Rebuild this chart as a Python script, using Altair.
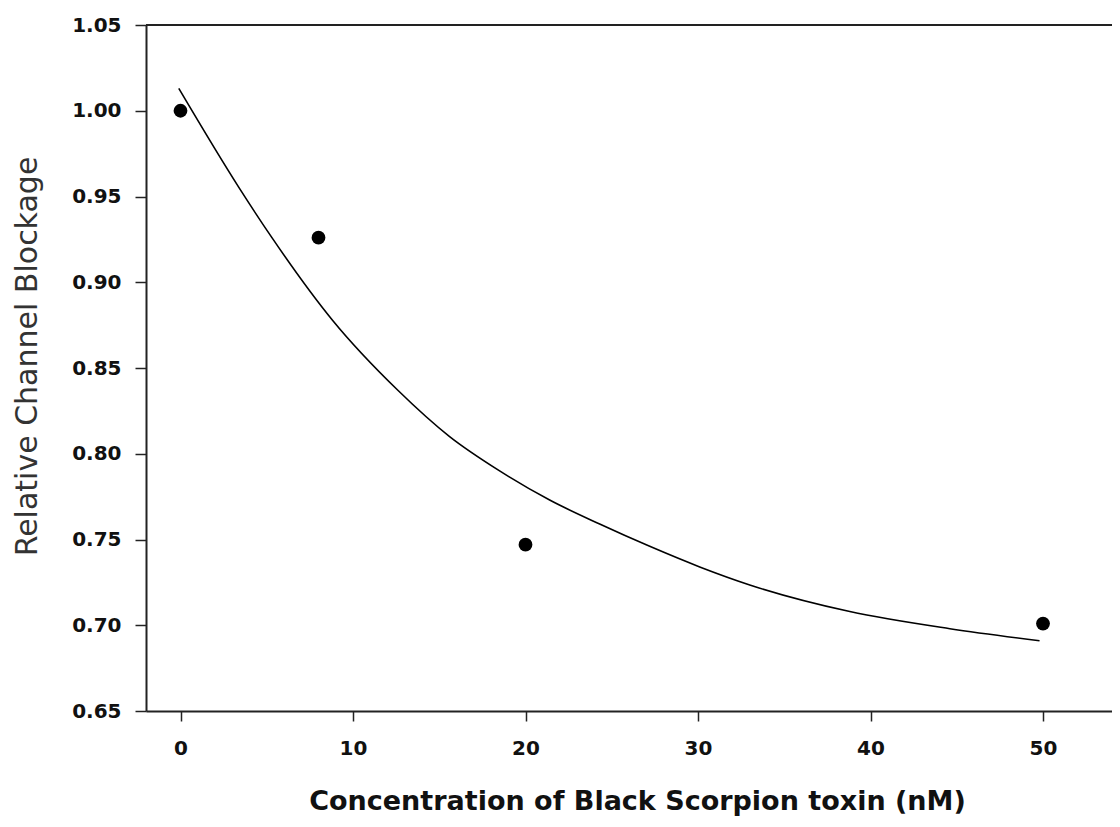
import altair as alt
import pandas as pd

# Measured points
conc = [0, 8, 20, 50]
blockage = [1.000, 0.926, 0.747, 0.701]

# Fitted curve
curve_x = [-0.1, 3.4, 5.3, 8.8, 12.6, 15.6, 18.5, 21.4, 24.3, 27.2, 30.1, 33.0, 38.8, 44.6, 49.8]
curve_y = [1.013, 0.955, 0.926, 0.878, 0.837, 0.810, 0.790, 0.773, 0.759, 0.746, 0.734, 0.7235, 0.708, 0.698, 0.691]

pts = pd.DataFrame({"x": conc, "y": blockage})
crv = pd.DataFrame({"x": curve_x, "y": curve_y})

W, H = 966, 686
FONT = "DejaVu Sans"

xscale = alt.Scale(domain=[-2, 54], nice=False, zero=False)
yscale = alt.Scale(domain=[0.65, 1.05], nice=False, zero=False)

xaxis = alt.Axis(
    title="Concentration of Black Scorpion toxin (nM)",
    values=[0, 10, 20, 30, 40, 50], format="d",
    grid=False, domainColor="#222", domainWidth=2, tickColor="#222", tickWidth=1.5,
    tickSize=10, labelFont=FONT, labelFontSize=20, labelFontWeight="bold", labelColor="#111",
    labelPadding=17, titleFont=FONT, titleFontSize=27, titleFontWeight="bold",
    titleColor="#111", titleX=491, titleY=98, titleBaseline="alphabetic",
)
yaxis = alt.Axis(
    title="Relative Channel Blockage",
    values=[0.65, 0.70, 0.75, 0.80, 0.85, 0.90, 0.95, 1.00, 1.05], format=".2f",
    grid=False, domainColor="#222", domainWidth=2, tickColor="#222", tickWidth=1.5,
    tickSize=11, labelFont=FONT, labelFontSize=20, labelFontWeight="bold", labelColor="#111",
    labelPadding=14, titleFont=FONT, titleFontSize=30, titleFontWeight="normal",
    titleColor="#333", titleX=-110, titleY=331, titleBaseline="alphabetic",
)

line = alt.Chart(crv).mark_line(color="black", strokeWidth=1.6, interpolate="monotone").encode(
    x=alt.X("x:Q", scale=xscale, axis=xaxis),
    y=alt.Y("y:Q", scale=yscale, axis=yaxis),
)
dots = alt.Chart(pts).mark_circle(color="black", size=190, opacity=1).encode(
    x=alt.X("x:Q", scale=xscale),
    y=alt.Y("y:Q", scale=yscale),
)
top = alt.Chart(pts).mark_rule(color="#222", strokeWidth=2).encode(
    x=alt.value(0), x2=alt.value(W), y=alt.value(0)
)

chart = alt.layer(line, dots, top).properties(
    width=W, height=H,
    autosize=alt.AutoSizeParams(type="none"),
    padding={"left": 138, "top": 17, "right": 0, "bottom": 108},
).configure_view(stroke=None).configure(background="white")

chart.save("out.html", embed_options={"renderer": "svg", "actions": False})
